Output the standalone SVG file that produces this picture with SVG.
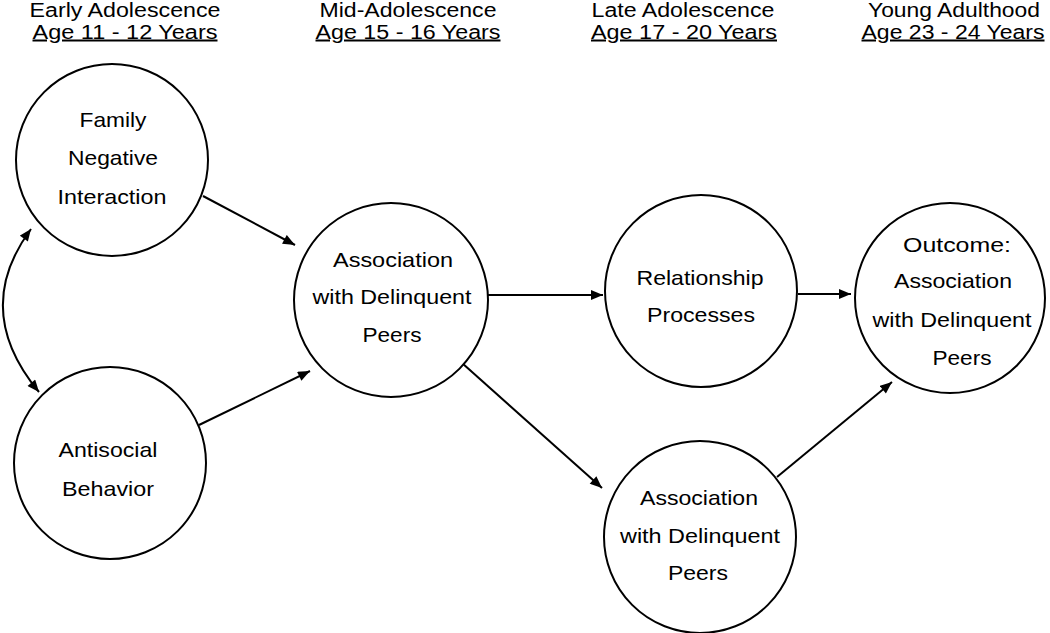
<svg xmlns="http://www.w3.org/2000/svg" width="1050" height="633" viewBox="0 0 1050 633">
<defs>
<style>
.node circle{fill:#fff;stroke:#000;stroke-width:2}
text{font-family:"Liberation Sans",Arial,sans-serif;font-size:21px;fill:#000;text-anchor:middle}
.hdr text{font-size:20px}
.hdr .u{text-decoration:underline}
.conn path{fill:none;stroke:#000;stroke-width:2}
</style>
<marker id="ah" viewBox="0 0 12 10" markerWidth="13" markerHeight="10" refX="12" refY="5" orient="auto-start-reverse" markerUnits="userSpaceOnUse">
<path d="M0,0 L12,5 L0,10 Z" fill="#000"/>
</marker>
</defs>
<rect width="1050" height="633" fill="#fff"/>
<g id="headers" class="hdr">
<text x="125" y="16.5" textLength="191" lengthAdjust="spacingAndGlyphs">Early Adolescence</text>
<text class="u" x="125" y="38.5" textLength="185" lengthAdjust="spacingAndGlyphs">Age 11 - 12 Years</text>
<text x="408" y="16.5" textLength="177" lengthAdjust="spacingAndGlyphs">Mid-Adolescence</text>
<text class="u" x="408" y="38.5" textLength="185" lengthAdjust="spacingAndGlyphs">Age 15 - 16 Years</text>
<text x="683" y="16.5" textLength="183" lengthAdjust="spacingAndGlyphs">Late Adolescence</text>
<text class="u" x="684" y="38.5" textLength="186" lengthAdjust="spacingAndGlyphs">Age 17 - 20 Years</text>
<text x="954" y="16.5" textLength="172" lengthAdjust="spacingAndGlyphs">Young Adulthood</text>
<text class="u" x="953" y="38.5" textLength="183" lengthAdjust="spacingAndGlyphs">Age 23 - 24 Years</text>
</g>
<g id="connectors" class="conn">
<path d="M203,196 L295,245" marker-end="url(#ah)"/>
<path d="M199,425 L310,371" marker-end="url(#ah)"/>
<path d="M488,295 L603,295" marker-end="url(#ah)"/>
<path d="M798,294 L851,294" marker-end="url(#ah)"/>
<path d="M462,363 L602,488" marker-end="url(#ah)"/>
<path d="M777,477 L892,382" marker-end="url(#ah)"/>
<path d="M31,229 Q-29,310 39,392" marker-start="url(#ah)" marker-end="url(#ah)"/>
</g>
<g id="n-family" class="node">
<circle cx="112" cy="160" r="96"/>
<text x="113" y="127" textLength="67" lengthAdjust="spacingAndGlyphs">Family</text>
<text x="113" y="165" textLength="90" lengthAdjust="spacingAndGlyphs">Negative</text>
<text x="112" y="204" textLength="109" lengthAdjust="spacingAndGlyphs">Interaction</text>
</g>
<g id="n-antisocial" class="node">
<circle cx="110" cy="463" r="96"/>
<text x="108" y="457" textLength="99" lengthAdjust="spacingAndGlyphs">Antisocial</text>
<text x="108" y="496" textLength="92" lengthAdjust="spacingAndGlyphs">Behavior</text>
</g>
<g id="n-assoc-mid" class="node">
<circle cx="391" cy="300" r="97"/>
<text x="393" y="267" textLength="120" lengthAdjust="spacingAndGlyphs">Association</text>
<text x="392" y="304" textLength="159" lengthAdjust="spacingAndGlyphs">with Delinquent</text>
<text x="392" y="342" textLength="59" lengthAdjust="spacingAndGlyphs">Peers</text>
</g>
<g id="n-relationship" class="node">
<circle cx="701" cy="291" r="96"/>
<text x="700" y="285" textLength="127" lengthAdjust="spacingAndGlyphs">Relationship</text>
<text x="701" y="322" textLength="108" lengthAdjust="spacingAndGlyphs">Processes</text>
</g>
<g id="n-outcome" class="node">
<circle cx="950" cy="298" r="95"/>
<text x="957" y="252" textLength="108" lengthAdjust="spacingAndGlyphs">Outcome:</text>
<text x="953" y="288" textLength="118" lengthAdjust="spacingAndGlyphs">Association</text>
<text x="952" y="327" textLength="159" lengthAdjust="spacingAndGlyphs">with Delinquent</text>
<text x="962" y="365" textLength="59" lengthAdjust="spacingAndGlyphs">Peers</text>
</g>
<g id="n-assoc-late" class="node">
<circle cx="700" cy="537" r="96"/>
<text x="699" y="505" textLength="118" lengthAdjust="spacingAndGlyphs">Association</text>
<text x="700" y="543" textLength="160" lengthAdjust="spacingAndGlyphs">with Delinquent</text>
<text x="698" y="580" textLength="60" lengthAdjust="spacingAndGlyphs">Peers</text>
</g>
</svg>
